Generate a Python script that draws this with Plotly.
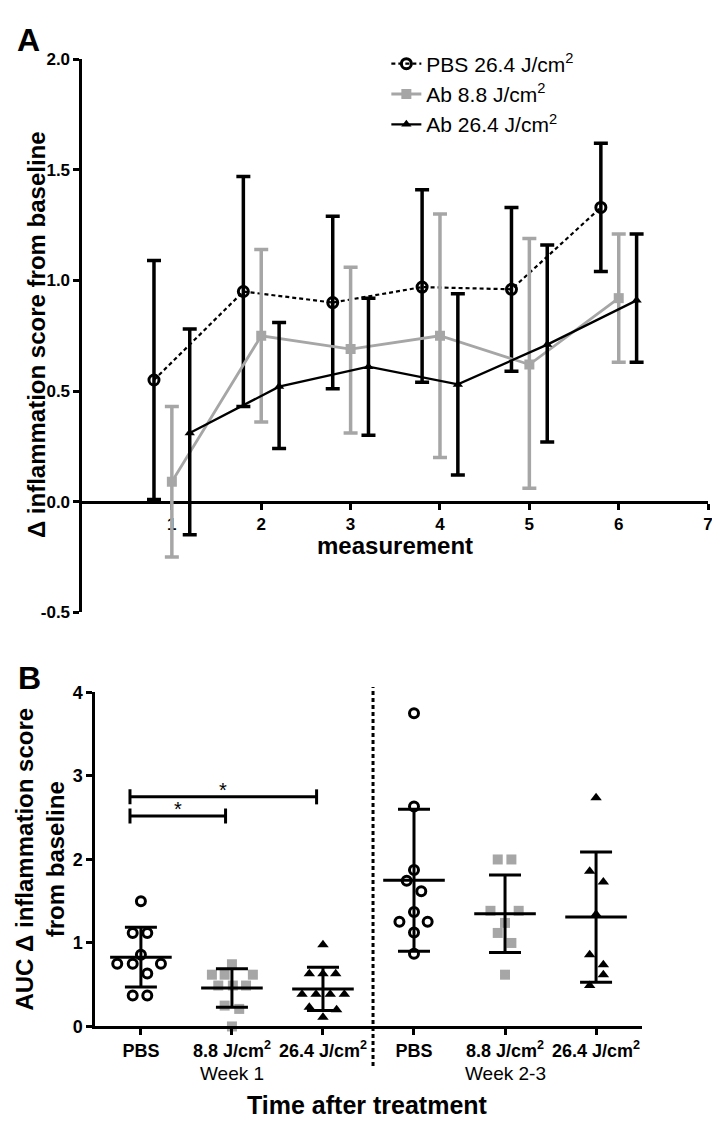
import plotly.graph_objects as go

W, H = 720, 1125
FONT = "Liberation Sans, Arial, Helvetica, sans-serif"
BLACK = "#000000"
GRAY = "#a6a6a6"

# ---------------- Panel A data ----------------
a_measurement = [1, 2, 3, 4, 5, 6]
a_xticks = [1, 2, 3, 4, 5, 6, 7]
a_yticks = [-0.5, 0.0, 0.5, 1.0, 1.5, 2.0]
a_names = ["PBS 26.4 J/cm<sup>2</sup>", "Ab 8.8 J/cm<sup>2</sup>", "Ab 26.4 J/cm<sup>2</sup>"]

pbs264_mean = [0.55, 0.95, 0.90, 0.97, 0.96, 1.33]
pbs264_upper = [1.09, 1.47, 1.29, 1.41, 1.33, 1.62]
pbs264_lower = [0.01, 0.43, 0.51, 0.54, 0.59, 1.04]

ab88_mean = [0.09, 0.75, 0.69, 0.75, 0.62, 0.92]
ab88_upper = [0.43, 1.14, 1.06, 1.30, 1.19, 1.21]
ab88_lower = [-0.25, 0.36, 0.31, 0.20, 0.06, 0.63]

ab264_mean = [0.31, 0.52, 0.61, 0.53, 0.71, 0.91]
ab264_upper = [0.78, 0.81, 0.92, 0.94, 1.16, 1.21]
ab264_lower = [-0.15, 0.24, 0.30, 0.12, 0.27, 0.63]

# ---------------- Panel B data ----------------
b_group_pos = [1, 2, 3, 4, 5, 6]
b_group_labels = ["PBS", "8.8 J/cm<sup>2</sup>", "26.4 J/cm<sup>2</sup>",
                  "PBS", "8.8 J/cm<sup>2</sup>", "26.4 J/cm<sup>2</sup>"]
b_week_labels = ["Week 1", "Week 2-3"]
b_week_centers = [2, 5]
b_yticks = [0, 1, 2, 3, 4]

pbs_w1 = [1.50, 1.12, 1.12, 0.86, 0.75, 0.75, 0.75, 0.635, 0.37, 0.37]
pbs_w1_jit = [0.0, -0.09, 0.07, 0.0, -0.26, -0.09, 0.22, 0.07, -0.09, 0.07]
ab88_w1 = [0.745, 0.62, 0.62, 0.62, 0.49, 0.49, 0.49, 0.25, 0.21, 0.0]
ab88_w1_jit = [0.0, -0.22, -0.08, 0.23, -0.15, 0.01, 0.155, -0.08, 0.08, 0.0]
ab264_w1 = [0.98, 0.63, 0.63, 0.63, 0.385, 0.385, 0.385, 0.385, 0.23, 0.20, 0.11]
ab264_w1_jit = [0.0, -0.15, 0.0, 0.14, -0.23, -0.076, 0.08, 0.235, -0.15, 0.15, 0.0]

pbs_w2 = [3.75, 2.635, 1.875, 1.745, 1.62, 1.37, 1.255, 1.255, 1.125, 0.87]
pbs_w2_jit = [0.0, 0.0, 0.0, -0.08, 0.08, 0.0, -0.16, 0.15, 0.0, 0.0]
ab88_w2 = [2.0, 2.0, 1.385, 1.385, 1.24, 1.12, 1.0, 0.62]
ab88_w2_jit = [-0.08, 0.07, -0.16, 0.15, 0.0, -0.08, 0.07, 0.0]
ab264_w2 = [2.74, 1.86, 1.73, 1.345, 0.86, 0.74, 0.62, 0.49]
ab264_w2_jit = [0.0, -0.07, 0.08, 0.0, -0.07, 0.08, 0.08, -0.07]

b_means = [0.83, 0.46, 0.45, 1.75, 1.35, 1.31]
b_sds = [0.357, 0.23, 0.258, 0.85, 0.465, 0.78]

b_sig_from = [1, 1]
b_sig_to = [2, 3]
b_sig_height = [2.52, 2.75]
b_sig_text = ["*", "*"]

b_divider_x = 3.55

# ---------------- layout geometry (styles) ----------------
A_XDOM = [75 / W, 705 / W]
A_YDOM = [1 - 605 / H, 1 - 42 / H]
A_XRANGE = [0, 7]
A_YRANGE = [-0.5, 2.0]
B_XDOM = [88 / W, 638 / W]
B_YDOM = [1 - 1026.7 / H, 1 - 686.7 / H]
B_XRANGE = [0.5, 6.5]
B_YRANGE = [0, 4]
DODGE = [-0.2, 0.0, 0.2]

fig = go.Figure()

# ---------------- Panel A traces ----------------
a_series = [
    (pbs264_mean, pbs264_upper, pbs264_lower, BLACK,
     dict(symbol="circle-open", size=10, color=BLACK, line=dict(width=3, color=BLACK)),
     dict(color=BLACK, width=2.2, dash="4px,3px")),
    (ab88_mean, ab88_upper, ab88_lower, GRAY,
     dict(symbol="square", size=10, color=GRAY),
     dict(color=GRAY, width=2.8)),
    (ab264_mean, ab264_upper, ab264_lower, BLACK,
     dict(symbol="triangle-up", size=9, color=BLACK),
     dict(color=BLACK, width=2.3)),
]
for i, (m, up, lo, col, mk, ln) in enumerate(a_series):
    fig.add_trace(go.Scatter(
        x=[v + DODGE[i] for v in a_measurement], y=m,
        mode="lines+markers", name=a_names[i],
        marker=mk, line=ln,
        error_y=dict(type="data", symmetric=False,
                     array=[u - v for u, v in zip(up, m)],
                     arrayminus=[v - l for v, l in zip(m, lo)],
                     color=col, thickness=3.5, width=7),
        xaxis="x", yaxis="y", showlegend=True, cliponaxis=False,
    ))

# ---------------- Panel B traces ----------------
circle_mk = dict(symbol="circle-open", size=9, color=BLACK, line=dict(width=3, color=BLACK))
b_points = [
    (pbs_w1, pbs_w1_jit, 1, circle_mk),
    (ab88_w1, ab88_w1_jit, 2, dict(symbol="square", size=10, color=GRAY)),
    (ab264_w1, ab264_w1_jit, 3, dict(symbol="triangle-up", size=10, color=BLACK)),
    (pbs_w2, pbs_w2_jit, 4, circle_mk),
    (ab88_w2, ab88_w2_jit, 5, dict(symbol="square", size=10, color=GRAY)),
    (ab264_w2, ab264_w2_jit, 6, dict(symbol="triangle-up", size=10, color=BLACK)),
]
for vals, jit, pos, mk in b_points:
    fig.add_trace(go.Scatter(
        x=[pos + j for j in jit], y=vals, mode="markers", marker=mk,
        xaxis="x2", yaxis="y2", showlegend=False, cliponaxis=False,
    ))

# mean line + SD bars
fig.add_trace(go.Scatter(
    x=b_group_pos, y=b_means, mode="markers",
    marker=dict(symbol="line-ew", size=44, color=BLACK, line=dict(width=3, color=BLACK)),
    error_y=dict(type="data", array=b_sds, color=BLACK, thickness=3, width=16),
    xaxis="x2", yaxis="y2", showlegend=False, cliponaxis=False,
))

# significance brackets
BRACKET_SHIFT = -0.12
TICK_H = 0.09
for f, t, h in zip(b_sig_from, b_sig_to, b_sig_height):
    x0 = f + BRACKET_SHIFT
    x1 = t + BRACKET_SHIFT + 0.05
    fig.add_trace(go.Scatter(
        x=[x0, x0, None, x0, x1, None, x1, x1],
        y=[h - TICK_H, h + TICK_H, None, h, h, None, h - TICK_H, h + TICK_H],
        mode="lines", line=dict(color=BLACK, width=3),
        xaxis="x2", yaxis="y2", showlegend=False, hoverinfo="skip",
    ))

annotations = []
for f, t, h, s in zip(b_sig_from, b_sig_to, b_sig_height, b_sig_text):
    annotations.append(dict(
        x=(f + t) / 2 + BRACKET_SHIFT + 0.025, y=h, xref="x2", yref="y2",
        text=s, showarrow=False, yanchor="bottom", yshift=-6,
        font=dict(family=FONT, size=20, color=BLACK)))

# week labels
for lbl, c in zip(b_week_labels, b_week_centers):
    annotations.append(dict(
        x=c, y=1 - 1075 / H, xref="x2", yref="paper", text=lbl, showarrow=False,
        xanchor="center", yanchor="middle", font=dict(family=FONT, size=19, color=BLACK)))

# titles / panel letters
annotations += [
    dict(x=21 / W, y=1 - 22 / H, xref="paper", yref="paper", text="<b>A</b>", showarrow=False,
         xanchor="center", yanchor="middle", font=dict(family=FONT, size=32, color=BLACK)),
    dict(x=22 / W, y=1 - 672 / H, xref="paper", yref="paper", text="<b>B</b>", showarrow=False,
         xanchor="center", yanchor="middle", font=dict(family=FONT, size=32, color=BLACK)),
    dict(x=28 / W, y=1 - 322 / H, xref="paper", yref="paper",
         text="<b>Δ inflammation score from baseline</b>", textangle=-90, showarrow=False,
         xanchor="center", yanchor="middle", font=dict(family=FONT, size=24, color=BLACK)),
    dict(x=390 / W, y=1 - 537 / H, xref="paper", yref="paper", text="<b>measurement</b>",
         showarrow=False, xanchor="center", yanchor="middle",
         font=dict(family=FONT, size=24, color=BLACK)),
    dict(x=32 / W, y=1 - 856 / H, xref="paper", yref="paper",
         text="<b>AUC Δ inflammation score<br>from baseline</b>", textangle=-90, showarrow=False,
         xanchor="center", yanchor="middle", font=dict(family=FONT, size=24, color=BLACK)),
    dict(x=362 / W, y=1 - 1107 / H, xref="paper", yref="paper", text="<b>Time after treatment</b>",
         showarrow=False, xanchor="center", yanchor="middle",
         font=dict(family=FONT, size=25, color=BLACK)),
]

# x axis of panel A crosses at y = 0
a_x_pos = A_YDOM[0] + (0 - A_YRANGE[0]) / (A_YRANGE[1] - A_YRANGE[0]) * (A_YDOM[1] - A_YDOM[0])

axis_common = dict(showgrid=False, zeroline=False, showline=True, linecolor=BLACK, linewidth=3,
                   ticks="outside", ticklen=6, tickwidth=3, tickcolor=BLACK)

fig.update_layout(
    width=W, height=H, margin=dict(l=0, r=0, t=0, b=0),
    paper_bgcolor="white", plot_bgcolor="white",
    font=dict(family=FONT, color=BLACK),
    xaxis=dict(domain=A_XDOM, range=A_XRANGE, anchor="free", position=a_x_pos,
               tickmode="array", tickvals=a_xticks, ticktext=[str(v) for v in a_xticks],
               tickfont=dict(family=FONT, size=17, weight="bold"), layer="below traces",
               **axis_common),
    yaxis=dict(domain=A_YDOM, range=A_YRANGE, anchor="x",
               tickmode="array", tickvals=a_yticks, ticktext=[f"{v:.1f}" for v in a_yticks],
               tickfont=dict(family=FONT, size=17, weight="bold"), **axis_common),
    xaxis2=dict(domain=B_XDOM, range=B_XRANGE, anchor="y2",
                tickmode="array", tickvals=b_group_pos, ticktext=b_group_labels,
                tickfont=dict(family=FONT, size=18, weight="bold"), **axis_common),
    yaxis2=dict(domain=B_YDOM, range=B_YRANGE, anchor="x2",
                tickmode="array", tickvals=b_yticks, ticktext=[str(v) for v in b_yticks],
                tickfont=dict(family=FONT, size=18, weight="bold"), **axis_common),
    legend=dict(x=381 / W, y=1 - 26 / H, xanchor="left", yanchor="top",
                bgcolor="rgba(0,0,0,0)", font=dict(family=FONT, size=21, color=BLACK),
                itemsizing="trace", tracegroupgap=0),
    shapes=[dict(type="line", xref="x2", yref="paper", x0=b_divider_x, x1=b_divider_x,
                 y0=1 - 1067 / H, y1=1 - 681 / H,
                 line=dict(color=BLACK, width=3, dash="4px,3px"))],
    annotations=annotations,
)

fig.write_html("out.html")
